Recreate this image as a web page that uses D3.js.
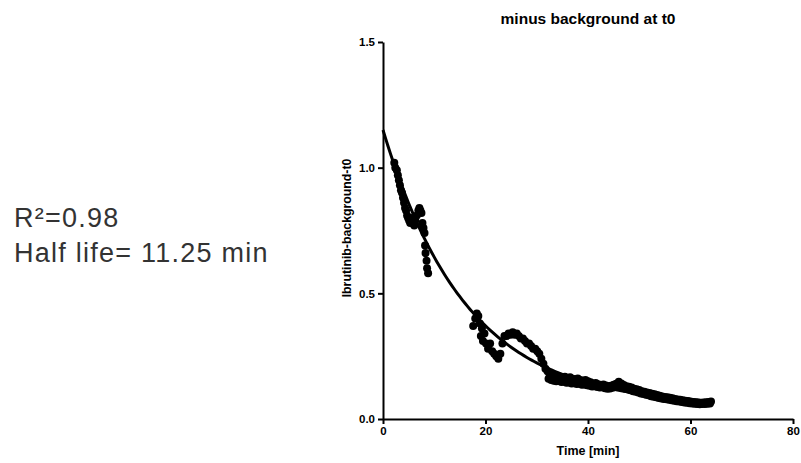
<!DOCTYPE html>
<html>
<head>
<meta charset="utf-8">
<script src="https://cdn.jsdelivr.net/npm/d3@7"></script>
<style>
  body { margin: 0; background: #fff; }
  .axis text { font-family: "Liberation Sans", Arial, sans-serif; font-weight: bold; font-size: 11.5px; fill: #000; }
  .axis path, .axis line { stroke: #000; stroke-width: 2px; }
  .lbl { font-family: "Liberation Sans", Arial, sans-serif; font-weight: bold; fill: #000; }
  .note { font-family: "Liberation Sans", Helvetica, Arial, sans-serif; font-size: 27px; fill: #333; letter-spacing: 1.25px; }
</style>
</head>
<body>
<svg id="chart"></svg>
<script>
// measured points (time in min, signal minus background)
const earlyTime = [2.2, 2.4, 2.7, 2.9, 3.1, 3.3, 3.5, 3.7, 3.9, 4.1, 4.3, 4.5, 4.7, 4.9, 5.1, 5.3, 5.5, 5.8, 6.1, 6.3, 6.6, 6.9, 7.1, 7.3, 7.5, 7.7, 7.9, 8.1, 8.2, 8.3, 8.5, 8.6, 8.8];
const earlyVal  = [1.02, 1.00, 0.99, 0.97, 0.95, 0.93, 0.91, 0.90, 0.88, 0.86, 0.84, 0.83, 0.81, 0.80, 0.79, 0.78, 0.80, 0.78, 0.77, 0.79, 0.81, 0.83, 0.84, 0.83, 0.82, 0.78, 0.76, 0.74, 0.69, 0.66, 0.63, 0.60, 0.58];

const lateTime = [17.6, 18.0, 18.3, 18.6, 18.9, 19.1, 19.3, 19.5, 19.8, 20.1, 20.5, 20.9, 21.3, 21.7, 22.1, 22.5, 22.9, 23.3, 23.7, 24.1, 24.5, 24.9, 25.3, 25.7, 26.1, 26.5, 26.9, 27.3, 27.7, 28.1, 28.5, 28.9, 29.3, 29.7, 30.1, 30.5, 30.9, 31.3, 31.7, 32.1, 32.5, 33.0, 33.5, 34.0, 34.5, 35.0, 35.5, 36.0, 36.5, 37.0, 37.5, 38.0, 38.5, 39.0, 39.5, 40.0, 40.5, 41.0, 41.5, 42.0, 42.5, 43.0, 43.5, 44.0, 44.5, 45.0, 45.5, 46.0, 46.5, 47.0, 47.5, 48.0, 48.5, 49.0, 49.5, 50.0, 50.5, 51.0, 51.5, 52.0, 52.5, 53.0, 53.5, 54.0, 54.5, 55.0, 55.5, 56.0, 56.5, 57.0, 57.5, 58.0, 58.5, 59.0, 59.5, 60.0, 60.5, 61.0, 61.5, 62.0, 62.5, 63.0, 63.5, 64.0];
const lateVal  = [0.37, 0.40, 0.42, 0.41, 0.38, 0.33, 0.36, 0.31, 0.34, 0.30, 0.28, 0.30, 0.27, 0.26, 0.25, 0.24, 0.26, 0.30, 0.33, 0.33, 0.34, 0.335, 0.345, 0.335, 0.34, 0.33, 0.32, 0.32, 0.31, 0.30, 0.30, 0.29, 0.28, 0.28, 0.27, 0.26, 0.24, 0.22, 0.20, 0.19, 0.18, 0.176, 0.17, 0.172, 0.168, 0.165, 0.168, 0.163, 0.166, 0.16, 0.158, 0.161, 0.155, 0.152, 0.155, 0.15, 0.146, 0.14, 0.143, 0.138, 0.135, 0.137, 0.133, 0.13, 0.132, 0.136, 0.14, 0.148, 0.141, 0.135, 0.13, 0.128, 0.125, 0.12, 0.118, 0.115, 0.11, 0.108, 0.105, 0.103, 0.1, 0.098, 0.095, 0.093, 0.09, 0.088, 0.087, 0.085, 0.083, 0.08, 0.078, 0.077, 0.075, 0.073, 0.072, 0.07, 0.068, 0.067, 0.066, 0.065, 0.066, 0.067, 0.068, 0.07];

// lower edge of the late band
const bandTime = [32.3, 32.8, 33.3, 33.8, 34.3, 34.8, 35.3, 35.8, 36.3, 36.8, 37.3, 37.8, 38.3, 38.8, 39.3, 39.8, 40.3, 40.8, 41.3, 41.8, 42.3, 42.8, 43.3, 43.8, 44.3, 44.8, 45.3, 45.8, 46.3, 46.8, 47.3, 47.8, 48.3, 48.8, 49.3, 49.8, 50.3, 50.8, 51.3, 51.8, 52.3, 52.8, 53.3, 53.8, 54.3, 54.8, 55.3, 55.8, 56.3, 56.8, 57.3, 57.8, 58.3, 58.8, 59.3, 59.8, 60.3, 60.8, 61.3, 61.8, 62.3, 62.8, 63.3, 63.8];
const bandVal  = [0.16, 0.155, 0.152, 0.15, 0.151, 0.147, 0.148, 0.144, 0.145, 0.141, 0.142, 0.139, 0.14, 0.136, 0.137, 0.134, 0.132, 0.129, 0.13, 0.127, 0.125, 0.126, 0.122, 0.12, 0.121, 0.124, 0.127, 0.133, 0.13, 0.124, 0.12, 0.117, 0.114, 0.11, 0.108, 0.105, 0.101, 0.099, 0.096, 0.094, 0.091, 0.089, 0.087, 0.084, 0.082, 0.08, 0.079, 0.077, 0.075, 0.073, 0.071, 0.07, 0.068, 0.066, 0.065, 0.063, 0.062, 0.061, 0.06, 0.059, 0.06, 0.06, 0.061, 0.062];

// one phase decay fit
const fitY0 = 1.15;
const fitPlateau = 0.05;
const halfLife = 11.25;
const fitEnd = 64;

const xTicks = [0, 20, 40, 60, 80];
const yTicks = [0, 0.5, 1.0, 1.5];

const svg = d3.select('#chart')
  .attr('width', 801)
  .attr('height', 463);

const x = d3.scaleLinear().domain([0, 80]).range([383, 793]);
const y = d3.scaleLinear().domain([0, 1.5]).range([419, 42]);

const pair = (ts, vs) => ts.map((t, i) => [t, vs[i]]);
const points = pair(earlyTime, earlyVal)
  .concat(pair(lateTime, lateVal))
  .concat(pair(bandTime, bandVal));

// fit curve
const k = Math.log(2) / halfLife;
const curve = d3.range(0, fitEnd + 0.01, 0.5).map(t => [t, (fitY0 - fitPlateau) * Math.exp(-k * t) + fitPlateau]);

svg.append('path')
  .datum(curve)
  .attr('fill', 'none')
  .attr('stroke', '#000')
  .attr('stroke-width', 3)
  .attr('d', d3.line().x(d => x(d[0])).y(d => y(d[1])));

svg.append('g')
  .selectAll('circle')
  .data(points)
  .enter()
  .append('circle')
  .attr('cx', d => x(d[0]))
  .attr('cy', d => y(d[1]))
  .attr('r', 4)
  .attr('fill', '#000');

// axes
svg.append('g')
  .attr('class', 'axis')
  .attr('transform', `translate(0, ${y(0)})`)
  .call(d3.axisBottom(x).tickValues(xTicks).tickSize(5).tickSizeOuter(0).tickFormat(d3.format('d')));

svg.append('g')
  .attr('class', 'axis')
  .attr('transform', `translate(${x(0)}, 0)`)
  .call(d3.axisLeft(y).tickValues(yTicks).tickSize(5).tickSizeOuter(0).tickFormat(d3.format('.1f')));

svg.selectAll('.axis .tick text').attr('font-size', null).attr('font-family', null);

// labels
svg.append('text')
  .attr('class', 'lbl')
  .attr('x', 588)
  .attr('y', 24)
  .attr('text-anchor', 'middle')
  .attr('font-size', 15.5)
  .text('minus background at t0');

svg.append('text')
  .attr('class', 'lbl')
  .attr('x', 588)
  .attr('y', 455)
  .attr('text-anchor', 'middle')
  .attr('font-size', 12.5)
  .text('Time [min]');

svg.append('text')
  .attr('class', 'lbl')
  .attr('transform', 'translate(351, 228) rotate(-90)')
  .attr('text-anchor', 'middle')
  .attr('font-size', 12.3)
  .text('Ibrutinib-background-t0');

svg.append('text')
  .attr('class', 'note')
  .attr('x', 14)
  .attr('y', 227)
  .text('R²=0.98');

svg.append('text')
  .attr('class', 'note')
  .attr('x', 14)
  .attr('y', 262)
  .text('Half life= 11.25 min');
</script>
</body>
</html>
